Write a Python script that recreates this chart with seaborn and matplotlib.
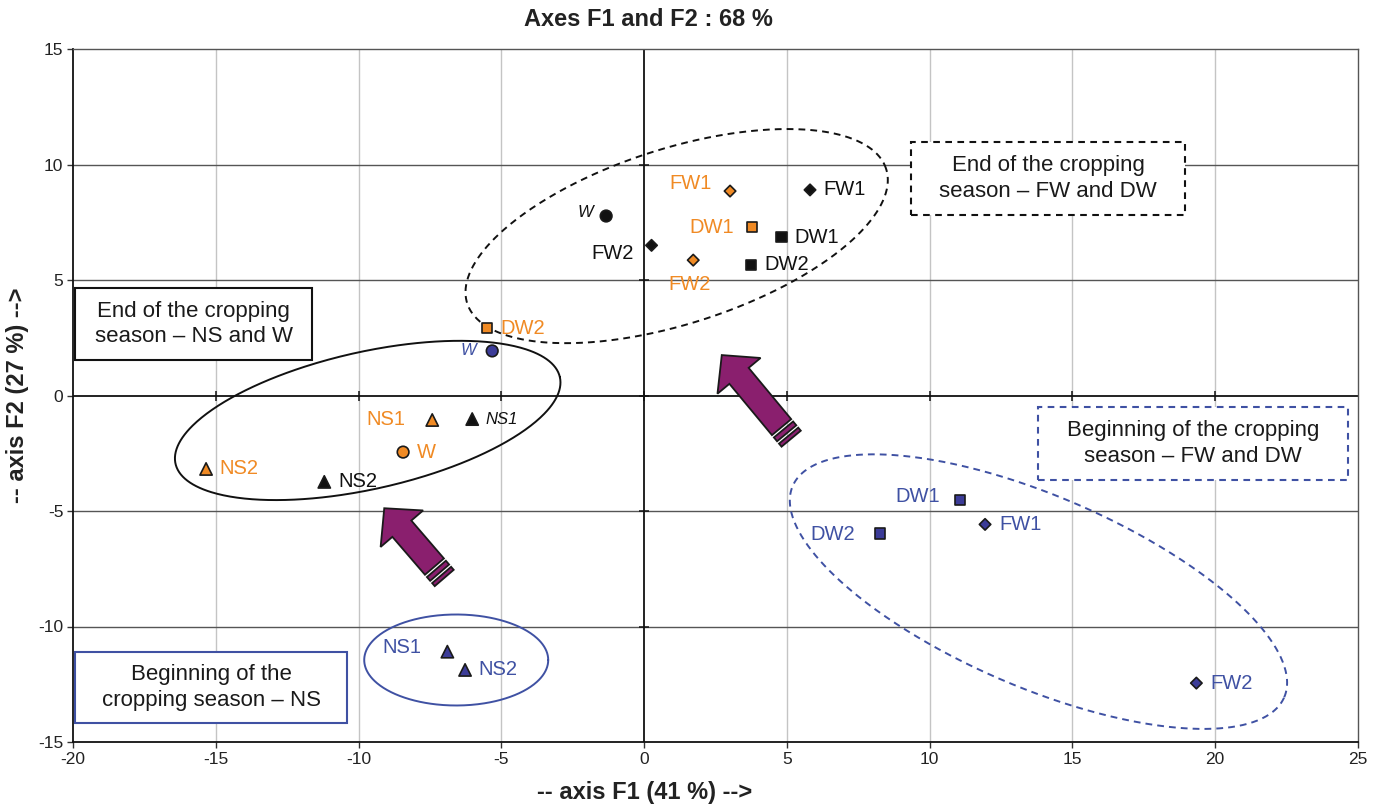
import numpy as np
import pandas as pd
import matplotlib
matplotlib.use("Agg")
import matplotlib.pyplot as plt
import seaborn as sns
from matplotlib.patches import Polygon, Rectangle

# ---- PCA scores (F1, F2) of the samples ----
# End of the cropping season, first campaign
orange_labels = ["FW1", "DW1", "FW2", "DW2", "NS1", "W", "NS2"]
orange_kind = ["FW", "DW", "FW", "DW", "NS", "W", "NS"]
orange_f1 = [3.01, 3.78, 1.72, -5.50, -7.42, -8.44, -15.34]
orange_f2 = [8.85, 7.29, 5.86, 2.92, -1.06, -2.45, -3.18]

# End of the cropping season, second campaign
black_labels = ["W", "FW2", "FW1", "DW1", "DW2", "NS1", "NS2"]
black_kind = ["W", "FW", "FW", "DW", "DW", "NS", "NS"]
black_f1 = [-1.33, 0.26, 5.81, 4.81, 3.75, -6.02, -11.20]
black_f2 = [7.77, 6.50, 8.90, 6.86, 5.65, -1.02, -3.74]

# Beginning of the cropping season
blue_labels = ["W", "NS1", "NS2", "DW1", "FW1", "DW2", "FW2"]
blue_kind = ["W", "NS", "NS", "DW", "FW", "DW", "FW"]
blue_f1 = [-5.32, -6.89, -6.27, 11.05, 11.94, 8.27, 19.34]
blue_f2 = [1.93, -11.09, -11.88, -4.52, -5.58, -5.97, -12.45]

x_ticks = [-20, -15, -10, -5, 0, 5, 10, 15, 20, 25]
y_ticks = [-15, -10, -5, 0, 5, 10, 15]

ORANGE = "#F08A24"
BLACK = "#111111"
BLUE = "#3F51A3"
BLUE_FILL = "#3C3C98"
PURPLE = "#8A1F6E"

# label placement: offset in pixels, horizontal alignment
orange_place = [(-18, 8, "right"), (-18, 0, "right"), (-4, -24, "center"),
                (13, 0, "left"), (-27, 0, "right"), (14, 0, "left"), (13, 0, "left")]
black_place = [(-13, 4, "right"), (-18, -8, "right"), (13, 0, "left"),
               (13, 0, "left"), (13, 0, "left"), (13, 0, "left"), (14, 0, "left")]
black_italic = [True, False, False, False, False, True, False]
blue_place = [(-16, 0, "right"), (-26, 4, "right"), (13, 0, "left"),
              (-20, 3, "right"), (14, 0, "left"), (-25, -1, "right"), (14, 0, "left")]
blue_italic = [True, False, False, False, False, False, False]

frames = []
for name, lab, kind, f1, f2 in [("orange", orange_labels, orange_kind, orange_f1, orange_f2),
                                ("black", black_labels, black_kind, black_f1, black_f2),
                                ("blue", blue_labels, blue_kind, blue_f1, blue_f2)]:
    frames.append(pd.DataFrame({"series": name, "label": lab, "kind": kind,
                                "F1": f1, "F2": f2}))
df = pd.concat(frames, ignore_index=True)

sns.set_theme(style="white")
plt.rcParams["font.family"] = ["Liberation Sans", "DejaVu Sans"]
plt.rcParams["axes.unicode_minus"] = False

W, H = 1374, 806
fig = plt.figure(figsize=(W / 100, H / 100), dpi=100)
ax = fig.add_axes([73 / W, (H - 742) / H, 1285 / W, 693 / H])
ax.set_xlim(-20, 25)
ax.set_ylim(-15, 15)
ax.set_xticks(x_ticks)
ax.set_yticks(y_ticks)

# grid: light vertical lines, dark horizontal lines
for xv in x_ticks[1:-1]:
    if xv != 0:
        ax.axvline(xv, color="#c4c4c4", lw=1.0, zorder=0.5)
for yv in y_ticks[1:-1]:
    if yv != 0:
        ax.axhline(yv, color="#555555", lw=1.0, zorder=0.6)
ax.axhline(0, color="#111111", lw=1.3, zorder=0.8)
ax.axvline(0, color="#111111", lw=1.3, zorder=0.8)
# small ticks on the zero lines
ax.plot(x_ticks[1:-1], [0] * (len(x_ticks) - 2), ls="none", marker="|",
        ms=7, mew=1.1, color="#111111", zorder=0.9)
ax.plot([0] * (len(y_ticks) - 2), y_ticks[1:-1], ls="none", marker="_",
        ms=7, mew=1.1, color="#111111", zorder=0.9)

for side in ["left", "bottom"]:
    ax.spines[side].set_color("#111111")
    ax.spines[side].set_linewidth(1.3)
for side in ["top", "right"]:
    ax.spines[side].set_color("#555555")
    ax.spines[side].set_linewidth(1.0)

ax.tick_params(axis="both", which="major", labelsize=12.5, length=4, width=1,
               color="#333333", labelcolor="#222222", pad=3, direction="out",
               bottom=True, left=True)


def ellipse_outline(center, a_px, b_px, angle_deg, **kw):
    t = np.linspace(0, 2 * np.pi, 500)
    th = np.deg2rad(angle_deg)
    cx, cy = ax.transData.transform(center)
    ex = a_px * np.cos(t) * np.cos(th) - b_px * np.sin(t) * np.sin(th)
    ey = a_px * np.cos(t) * np.sin(th) + b_px * np.sin(t) * np.cos(th)
    pts = ax.transData.inverted().transform(np.column_stack([cx + ex, cy + ey]))
    ax.plot(pts[:, 0], pts[:, 1], **kw)


ellipse_outline((1.14, 6.90), 220, 87.5, 17.8, color=BLACK, lw=1.4,
                ls=(0, (3.5, 2.6)), zorder=2)
ellipse_outline((-9.68, -1.08), 197, 68.5, 12.7, color=BLACK, lw=1.4, zorder=2)
ellipse_outline((13.81, -8.49), 267.5, 95.5, -23.25, color=BLUE, lw=1.4,
                ls=(0, (3.5, 2.6)), zorder=2)
ellipse_outline((-6.58, -11.45), 92, 45.5, 0, color=BLUE, lw=1.4, zorder=2)


def striped_arrow(tail, tip, shaft_w=25, head_w=56, head_len=27):
    p0 = ax.transData.transform(tail)
    p1 = ax.transData.transform(tip)
    d = p1 - p0
    L = np.hypot(*d)
    u = d / L
    n = np.array([-u[1], u[0]])
    inv = ax.transData.inverted()

    def to_data(local):
        pts = np.array([p0 + s * u + w * n for s, w in local])
        return inv.transform(pts)

    hs, hh = shaft_w / 2, head_w / 2
    body = [(15, -hs), (L - head_len, -hs), (L - head_len, -hh), (L, 0),
            (L - head_len, hh), (L - head_len, hs), (15, hs)]
    stripes = [[(0, -hs), (4, -hs), (4, hs), (0, hs)],
               [(7, -hs), (12, -hs), (12, hs), (7, hs)]]
    for shape in [body] + stripes:
        ax.add_patch(Polygon(to_data(shape), closed=True, facecolor=PURPLE,
                             edgecolor="#1a1a1a", lw=1.3, zorder=6,
                             joinstyle="miter"))


striped_arrow((-7.0, -7.9), (-9.1, -4.88))
striped_arrow((5.15, -1.87), (2.72, 1.75))

# sample markers
sns.scatterplot(data=df, x="F1", y="F2", hue="series", style="kind", size="kind",
                palette={"orange": ORANGE, "black": "#111111", "blue": BLUE_FILL},
                markers={"NS": "^", "W": "o", "FW": "D", "DW": "s"},
                sizes={"NS": 78, "W": 70, "FW": 34, "DW": 54},
                edgecolor="#1a1a1a", linewidth=1.2, legend=False, ax=ax, zorder=4)
ax.set_xlabel("")
ax.set_ylabel("")


def put_labels(labels, f1, f2, place, color, italic=None):
    for i, (lab, x, y, (dx, dy, ha)) in enumerate(zip(labels, f1, f2, place)):
        it = italic[i] if italic else False
        ax.annotate(lab, (x, y), xytext=(dx, dy), textcoords="offset pixels",
                    ha=ha, va="center", color=color,
                    fontsize=12 if it else 14.5,
                    style="italic" if it else "normal", zorder=5)


put_labels(orange_labels, orange_f1, orange_f2, orange_place, ORANGE)
put_labels(black_labels, black_f1, black_f2, black_place, BLACK, black_italic)
put_labels(blue_labels, blue_f1, blue_f2, blue_place, BLUE, blue_italic)

# group captions
captions = [
    ("End of the cropping\nseason \u2013 FW and DW", (9.35, 7.81, 18.94, 10.97), BLACK, "dashed"),
    ("End of the cropping\nseason \u2013 NS and W", (-19.92, 1.54, -11.62, 4.65), BLACK, "solid"),
    ("Beginning of the cropping\nseason \u2013 FW and DW", (13.8, -3.66, 24.65, -0.5), BLUE, "dashed"),
    ("Beginning of the\ncropping season \u2013 NS", (-19.92, -14.18, -10.4, -11.1), BLUE, "solid"),
]
for text, (x0, y0, x1, y1), ec, ls in captions:
    ax.add_patch(Rectangle((x0, y0), x1 - x0, y1 - y0, facecolor="white",
                           edgecolor=ec, lw=1.5,
                           ls=(0, (3.2, 2.6)) if ls == "dashed" else "-",
                           zorder=3))
    ax.text((x0 + x1) / 2, (y0 + y1) / 2, text, ha="center", va="center",
            fontsize=16, color="#1a1a1a", linespacing=1.28, zorder=3.5)

fig.text(648 / W, 1 - 20 / H, "Axes F1 and F2 : 68 %", ha="center", va="center",
         fontsize=17, fontweight="bold", color="#222222")
fig.text(645 / W, 1 - 793 / H, "-- axis F1 (41 %) -->", ha="center", va="center",
         fontsize=17, fontweight="bold", color="#222222")
fig.text(18 / W, 1 - 395 / H, "-- axis F2 (27 %) -->", ha="center", va="center",
         rotation=90, fontsize=17, fontweight="bold", color="#222222")

fig.savefig("out.png", dpi=100, facecolor="white")
